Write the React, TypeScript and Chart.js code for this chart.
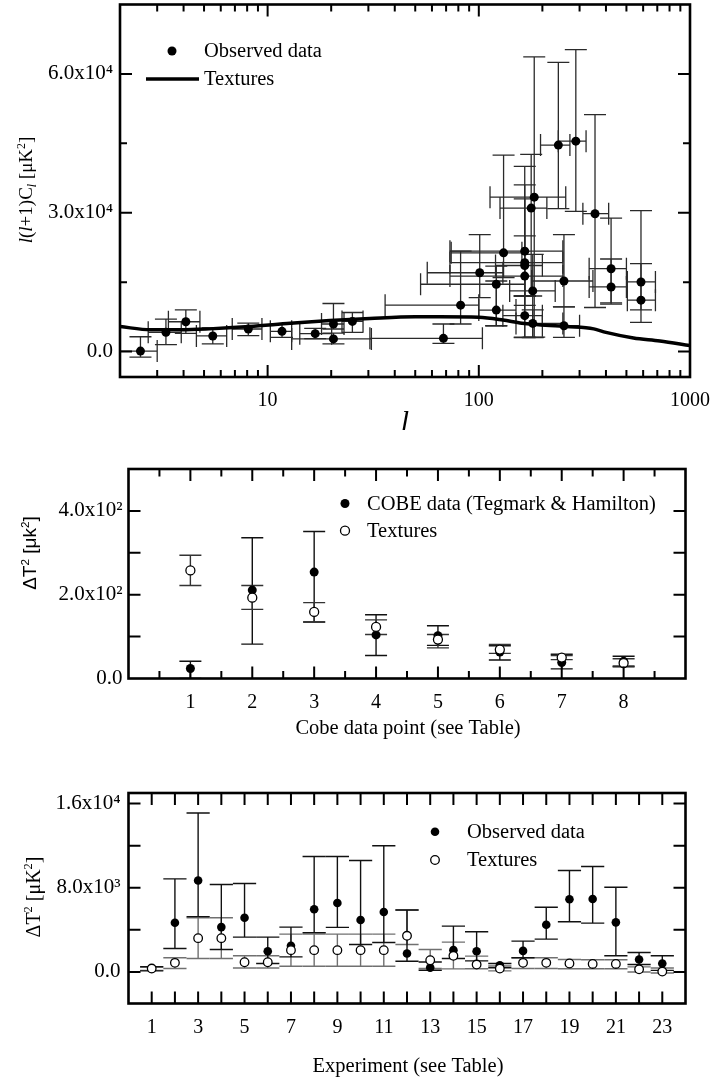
import React, { useEffect, useRef } from 'react';
import { Chart, registerables } from 'chart.js';
Chart.register(...registerables);

const SERIF = "'Liberation Serif', 'Times New Roman', serif";
const SANS = "'Liberation Sans', Arial, sans-serif";

// ---------------- Panel 1: l(l+1)C_l vs l ----------------
const p1L = [2.5, 3.3, 4.1, 5.5, 8.1, 11.7, 16.8, 20.5, 20.5, 25.2, 68, 82, 101, 121, 121, 131, 165, 165, 165, 165, 165, 177, 183, 180, 180, 238, 288, 253, 253, 355, 423, 423, 586, 586];
const p1Y = [100, 4150, 6440, 3370, 4870, 4360, 3870, 5950, 2730, 6510, 2860, 10030, 17030, 14540, 8960, 21330, 21700, 19200, 18600, 16300, 7750, 31000, 33360, 13100, 6080, 44610, 45470, 15250, 5585, 29790, 17900, 13960, 15040, 11100];
const p1YLo = [-1200, 1500, 3930, 1650, 3440, 3070, 2800, 4870, 1650, 4150, 1780, 5950, 11660, 5580, 5580, 15960, 3100, 12000, 12000, 10000, 3000, 12000, 3100, 3000, 3070, 30870, 30290, 9670, 3070, 9520, 10240, 10500, 9000, 6300];
const p1YHi = [3200, 7000, 9020, 5100, 6160, 5950, 5000, 10380, 4000, 8440, 5950, 21700, 25280, 18470, 15250, 42460, 40000, 36000, 33000, 25000, 12000, 42600, 63700, 21000, 9000, 62500, 65230, 25280, 9670, 51190, 28850, 20000, 30440, 19000];
const p1LMin = [1.9, 2.72, 3.39, 4.6, 6.8, 10.3, 14.2, 18, 13, 22.5, 30.5, 36, 57, 53, 100, 74, 73, 73, 120, 73, 130, 126, 113, 140, 150, 196, 238, 178, 200, 311, 333, 333, 505, 505];
const p1LMax = [3.0, 3.9, 4.78, 6.4, 9.4, 13.0, 20.1, 23, 31, 28.3, 104, 100, 130, 165, 150, 160, 250, 250, 200, 250, 200, 210, 258, 230, 250, 270, 322, 347, 300, 412, 500, 500, 686, 686];
const texCurveL = [2, 2.8, 3.9, 5.3, 8.2, 12.8, 19.7, 30.5, 50, 65, 100, 130, 160, 260, 350, 400, 540, 720, 1000];
const texCurveY = [5400, 4700, 4700, 4900, 5400, 6100, 6700, 7150, 7500, 7500, 7400, 6800, 6100, 5400, 4900, 4150, 2940, 2300, 1290];
const p1XTickVals = [10, 100, 1000];
const p1XTickLabels = ['10', '100', '1000'];
const p1YTickVals = [0, 30000, 60000];
const p1YTickLabels = ['0.0', '3.0x10⁴', '6.0x10⁴'];
const p1XMajor = [10, 100];
const p1XMinor = [3, 4, 5, 6, 7, 8, 9, 20, 30, 40, 50, 60, 70, 80, 90, 200, 300, 400, 500, 600, 700, 800, 900];
const p1YMajor = [0, 30000, 60000];
const p1YMinor = [15000, 45000];

// ---------------- Panel 2: COBE ----------------
const p2X = [1, 2, 3, 4, 5, 6, 7, 8];
const p2Cobe = [24, 211, 254, 104, 102, 63, 38, 41];
const p2CobeLo = [0, 82, 135, 55, 79, 44, 23, 28];
const p2CobeHi = [41, 336, 351, 152, 126, 78, 58, 53];
const p2Tex = [258, 193, 159, 123, 93, 69, 50, 37];
const p2TexLo = [222, 165, 135, 105, 73, 60, 45, 30];
const p2TexHi = [294, 222, 181, 140, 105, 81, 55, 47];
const p2XTickVals = [1, 2, 3, 4, 5, 6, 7, 8];
const p2XTickLabels = ['1', '2', '3', '4', '5', '6', '7', '8'];
const p2YTickVals = [0, 200, 400];
const p2YTickLabels = ['0.0', '2.0x10²', '4.0x10²'];
const p2XMajor = [1, 2, 3, 4, 5, 6, 7, 8];
const p2XMinor = [0.5, 1.5, 2.5, 3.5, 4.5, 5.5, 6.5, 7.5, 8.5];
const p2YMajor = [100, 200, 300, 400];

// ---------------- Panel 3: experiments ----------------
const p3X = [1, 2, 3, 4, 5, 6, 7, 8, 9, 10, 11, 12, 13, 14, 15, 16, 17, 18, 19, 20, 21, 22, 23];
const p3Obs = [300, 4675, 8680, 4260, 5150, 1970, 2480, 5950, 6550, 4930, 5690, 1750, 410, 2070, 1970, 640, 2000, 4480, 6900, 6930, 4710, 1180, 800];
const p3ObsLo = [100, 2230, 5250, 2130, 3310, 800, 1430, 3720, 4230, 2610, 2800, 1020, 160, 1270, 1050, 400, 1340, 3120, 4770, 4640, 1530, 700, 150];
const p3ObsHi = [500, 8840, 15100, 8300, 8400, 3310, 4260, 10970, 10970, 10590, 11990, 5880, 950, 4350, 3820, 800, 2930, 6140, 9640, 10020, 8050, 1840, 1530];
const p3Tex = [320, 860, 3210, 3210, 920, 920, 2070, 2070, 2070, 2070, 2070, 3430, 1110, 1530, 700, 320, 860, 860, 800, 760, 760, 250, 30];
const p3TexLo = [150, 320, 1270, 1270, 380, 380, 540, 540, 540, 540, 540, 2610, 320, 290, 300, 100, 320, 320, 300, 300, 300, 0, -100];
const p3TexHi = [450, 1340, 5150, 5150, 1530, 1530, 3590, 3590, 3590, 3590, 3590, 5880, 2130, 2830, 1500, 570, 1340, 1340, 1180, 1150, 1150, 480, 380];
const p3XTickVals = [1, 3, 5, 7, 9, 11, 13, 15, 17, 19, 21, 23];
const p3XTickLabels = ['1', '3', '5', '7', '9', '11', '13', '15', '17', '19', '21', '23'];
const p3YTickVals = [0, 8000, 16000];
const p3YTickLabels = ['0.0', '8.0x10³', '1.6x10⁴'];
const p3XMajor = [1, 2, 3, 4, 5, 6, 7, 8, 9, 10, 11, 12, 13, 14, 15, 16, 17, 18, 19, 20, 21, 22, 23];
const p3YMajor = [0, 4000, 8000, 12000, 16000];

type Seg = { t: string; i?: boolean; sup?: boolean; sub?: boolean };

function drawRich(ctx: CanvasRenderingContext2D, segs: Seg[], cx: number, cy: number, size: number, family: string, rotate: boolean) {
  ctx.save();
  ctx.translate(cx, cy);
  if (rotate) ctx.rotate(-Math.PI / 2);
  ctx.fillStyle = '#000';
  ctx.textBaseline = 'alphabetic';
  ctx.textAlign = 'left';
  const parts = segs.map((s) => {
    const sz = s.sup || s.sub ? size * 0.62 : size;
    const font = `${s.i ? 'italic ' : ''}${sz}px ${family}`;
    ctx.font = font;
    return { s, font, w: ctx.measureText(s.t).width, dy: s.sup ? -size * 0.4 : s.sub ? size * 0.18 : 0 };
  });
  const total = parts.reduce((a, p) => a + p.w, 0);
  let x = -total / 2;
  const base = size * 0.33;
  parts.forEach((p) => {
    ctx.font = p.font;
    ctx.fillText(p.s.t, x, base + p.dy);
    x += p.w;
  });
  ctx.restore();
}

const decorPlugin = {
  id: 'decor',
  beforeDatasetsDraw(chart: any, _args: any, opts: any) {
    const { ctx, chartArea: a } = chart;
    const xs = chart.scales.x;
    const ys = chart.scales.y;
    ctx.save();
    ctx.beginPath();
    ctx.rect(a.left, a.top, a.right - a.left, a.bottom - a.top);
    ctx.clip();
    (opts.errorBars || []).forEach((eb: any) => {
      const ds = chart.data.datasets[eb.datasetIndex];
      ds.data.forEach((d: any, i: number) => {
        const px = xs.getPixelForValue(d.x);
        const py = ys.getPixelForValue(d.y);
        ctx.strokeStyle = eb.color;
        ctx.lineWidth = eb.lineWidth;
        ctx.beginPath();
        if (eb.ylo) {
          const lo = ys.getPixelForValue(eb.ylo[i]);
          const hi = ys.getPixelForValue(eb.yhi[i]);
          let cl = px - (eb.capPx || 0);
          let cr = px + (eb.capPx || 0);
          if (eb.capUnits) {
            cl = xs.getPixelForValue(d.x - eb.capUnits);
            cr = xs.getPixelForValue(d.x + eb.capUnits);
          }
          ctx.moveTo(px, lo); ctx.lineTo(px, hi);
          ctx.moveTo(cl, lo); ctx.lineTo(cr, lo);
          ctx.moveTo(cl, hi); ctx.lineTo(cr, hi);
        }
        if (eb.xlo) {
          const l = xs.getPixelForValue(eb.xlo[i]);
          const r = xs.getPixelForValue(eb.xhi[i]);
          const c = eb.xCapPx;
          ctx.moveTo(l, py); ctx.lineTo(r, py);
          ctx.moveTo(l, py - c); ctx.lineTo(l, py + c);
          ctx.moveTo(r, py - c); ctx.lineTo(r, py + c);
        }
        ctx.stroke();
      });
    });
    ctx.restore();
  },
  afterDraw(chart: any, _args: any, opts: any) {
    const { ctx, chartArea: a } = chart;
    const xs = chart.scales.x;
    const ys = chart.scales.y;
    ctx.save();
    ctx.strokeStyle = '#000';
    ctx.lineWidth = opts.tickWidth || 2;
    ctx.beginPath();
    (opts.xTicks || []).forEach((t: number[]) => {
      const px = xs.getPixelForValue(t[0]);
      ctx.moveTo(px, a.bottom); ctx.lineTo(px, a.bottom - t[1]);
      ctx.moveTo(px, a.top); ctx.lineTo(px, a.top + t[1]);
    });
    (opts.yTicks || []).forEach((t: number[]) => {
      const py = ys.getPixelForValue(t[0]);
      ctx.moveTo(a.left, py); ctx.lineTo(a.left + t[1], py);
      ctx.moveTo(a.right, py); ctx.lineTo(a.right - t[1], py);
    });
    ctx.stroke();
    ctx.lineWidth = opts.frameWidth || 2.5;
    ctx.strokeRect(a.left, a.top, a.right - a.left, a.bottom - a.top);
    // legend
    (opts.legend || []).forEach((it: any) => {
      ctx.beginPath();
      if (it.kind === 'dot') {
        ctx.fillStyle = '#000';
        ctx.arc(it.x, it.y, it.r, 0, Math.PI * 2);
        ctx.fill();
      } else if (it.kind === 'open') {
        ctx.fillStyle = '#fff';
        ctx.strokeStyle = '#000';
        ctx.lineWidth = 1.3;
        ctx.arc(it.x, it.y, it.r, 0, Math.PI * 2);
        ctx.fill();
        ctx.stroke();
      } else if (it.kind === 'line') {
        ctx.strokeStyle = '#000';
        ctx.lineWidth = it.w;
        ctx.moveTo(it.x, it.y);
        ctx.lineTo(it.x2, it.y);
        ctx.stroke();
      }
      ctx.fillStyle = '#000';
      ctx.font = `${it.size}px ${SERIF}`;
      ctx.textAlign = 'left';
      ctx.textBaseline = 'middle';
      ctx.fillText(it.label, it.tx, it.ty);
    });
    (opts.titles || []).forEach((tt: any) => {
      drawRich(ctx, tt.segs, tt.x, tt.y, tt.size, tt.family, tt.rotate);
    });
    ctx.restore();
  },
};

function axisX(opts: any) {
  return {
    type: opts.type || 'linear',
    min: opts.min,
    max: opts.max,
    grid: { display: false, drawTicks: false },
    border: { display: false },
    ticks: {
      autoSkip: false,
      maxRotation: 0,
      padding: opts.padding,
      color: '#000',
      font: { family: SERIF, size: 20 },
      callback: (_v: any, i: number) => opts.labels[i],
    },
    afterBuildTicks: (s: any) => {
      s.ticks = opts.vals.map((v: number) => ({ value: v }));
    },
    afterFit: (s: any) => {
      s.height = opts.height;
      s.paddingLeft = 0;
      s.paddingRight = 0;
    },
  };
}

function axisY(opts: any) {
  return {
    type: 'linear',
    min: opts.min,
    max: opts.max,
    grid: { display: false, drawTicks: false },
    border: { display: false },
    ticks: {
      autoSkip: false,
      padding: opts.padding,
      color: '#000',
      font: { family: SERIF, size: 21 },
      callback: (_v: any, i: number) => opts.labels[i],
    },
    afterBuildTicks: (s: any) => {
      s.ticks = opts.vals.map((v: number) => ({ value: v }));
    },
    afterFit: (s: any) => {
      s.width = opts.width;
      s.paddingTop = 0;
      s.paddingBottom = 0;
    },
  };
}

const baseOpts = {
  animation: false,
  responsive: false,
  devicePixelRatio: 1,
  events: [],
};

function cfgPanel1(): any {
  return {
    type: 'scatter',
    data: {
      datasets: [
        {
          label: 'Observed data',
          data: p1L.map((l, i) => ({ x: l, y: p1Y[i] })),
          pointRadius: 4.5,
          pointBackgroundColor: '#000',
          pointBorderColor: '#000',
          pointBorderWidth: 0,
          showLine: false,
        },
        {
          label: 'Textures',
          data: texCurveL.map((l, i) => ({ x: l, y: texCurveY[i] })),
          showLine: true,
          borderColor: '#000',
          borderWidth: 3.5,
          pointRadius: 0,
          cubicInterpolationMode: 'monotone',
          fill: false,
        },
      ],
    },
    options: {
      ...baseOpts,
      layout: { padding: { left: 0, right: 24, top: 2, bottom: 0 } },
      plugins: {
        legend: { display: false },
        tooltip: { enabled: false },
        decor: {
          errorBars: [
            { datasetIndex: 0, ylo: p1YLo, yhi: p1YHi, xlo: p1LMin, xhi: p1LMax, capPx: 11, xCapPx: 11, color: '#2a2a2a', lineWidth: 1.3 },
          ],
          xTicks: [...p1XMajor.map((v) => [v, 12]), ...p1XMinor.map((v) => [v, 7])],
          yTicks: [...p1YMajor.map((v) => [v, 12]), ...p1YMinor.map((v) => [v, 7])],
          frameWidth: 2.6,
          tickWidth: 2,
          legend: [
            { kind: 'dot', x: 172, y: 51, r: 4.5, label: 'Observed data', tx: 204, ty: 52, size: 20.5 },
            { kind: 'line', x: 146, x2: 199, y: 79, w: 3.5, label: 'Textures', tx: 204, ty: 80, size: 20.5 },
          ],
          titles: [
            {
              segs: [{ t: 'l', i: true }, { t: '(' }, { t: 'l', i: true }, { t: '+1)C' }, { t: 'l', i: true, sub: true }, { t: ' [μK' }, { t: '2', sup: true }, { t: ']' }],
              x: 26, y: 190, size: 19, family: SERIF, rotate: true,
            },
            { segs: [{ t: 'l', i: true }], x: 405, y: 421, size: 30, family: SERIF, rotate: false },
          ],
        },
      },
      scales: {
        x: axisX({ type: 'logarithmic', min: 2, max: 1000, vals: p1XTickVals, labels: p1XTickLabels, padding: 12, height: 53 }),
        y: axisY({ min: -5500, max: 75000, vals: p1YTickVals, labels: p1YTickLabels, padding: 7, width: 120 }),
      },
    },
    plugins: [decorPlugin],
  };
}

function cfgPanel2(): any {
  return {
    type: 'scatter',
    data: {
      datasets: [
        {
          label: 'COBE data (Tegmark & Hamilton)',
          data: p2X.map((x, i) => ({ x, y: p2Cobe[i] })),
          pointRadius: 4.5,
          pointBackgroundColor: '#000',
          pointBorderColor: '#000',
          pointBorderWidth: 0,
          order: 1,
        },
        {
          label: 'Textures',
          data: p2X.map((x, i) => ({ x, y: p2Tex[i] })),
          pointRadius: 4.5,
          pointBackgroundColor: '#fff',
          pointBorderColor: '#000',
          pointBorderWidth: 1.3,
          order: 0,
        },
      ],
    },
    options: {
      ...baseOpts,
      layout: { padding: { left: 0, right: 28.5, top: 29, bottom: 0 } },
      plugins: {
        legend: { display: false },
        tooltip: { enabled: false },
        decor: {
          errorBars: [
            { datasetIndex: 0, ylo: p2CobeLo, yhi: p2CobeHi, capPx: 11, color: '#111', lineWidth: 1.4 },
            { datasetIndex: 1, ylo: p2TexLo, yhi: p2TexHi, capPx: 11, color: '#333', lineWidth: 1.4 },
          ],
          xTicks: [...p2XMajor.map((v) => [v, 12]), ...p2XMinor.map((v) => [v, 7.5])],
          yTicks: p2YMajor.map((v) => [v, 12]),
          frameWidth: 2.6,
          tickWidth: 2,
          legend: [
            { kind: 'dot', x: 345, y: 63.5, r: 4.5, label: 'COBE data (Tegmark & Hamilton)', tx: 367, ty: 64.5, size: 20.5 },
            { kind: 'open', x: 345, y: 90.7, r: 4.5, label: 'Textures', tx: 367, ty: 91.5, size: 20.5 },
          ],
          titles: [
            { segs: [{ t: 'ΔT' }, { t: '2', sup: true }, { t: ' [μk' }, { t: '2', sup: true }, { t: ']' }], x: 30, y: 113, size: 19, family: SANS, rotate: true },
            { segs: [{ t: 'Cobe data point (see Table)' }], x: 408, y: 287, size: 20.5, family: SERIF, rotate: false },
          ],
        },
      },
      scales: {
        x: axisX({ min: 0, max: 9, vals: p2XTickVals, labels: p2XTickLabels, padding: 12, height: 61.5 }),
        y: axisY({ min: 0, max: 500, vals: p2YTickVals, labels: p2YTickLabels, padding: 6, width: 128.5 }),
      },
    },
    plugins: [decorPlugin],
  };
}

function cfgPanel3(): any {
  return {
    type: 'scatter',
    data: {
      datasets: [
        {
          label: 'Observed data',
          data: p3X.map((x, i) => ({ x, y: p3Obs[i] })),
          pointRadius: 4.3,
          pointBackgroundColor: '#000',
          pointBorderColor: '#000',
          pointBorderWidth: 0,
          order: 1,
        },
        {
          label: 'Textures',
          data: p3X.map((x, i) => ({ x, y: p3Tex[i] })),
          pointRadius: 4.3,
          pointBackgroundColor: '#fff',
          pointBorderColor: '#000',
          pointBorderWidth: 1.3,
          order: 0,
        },
      ],
    },
    options: {
      ...baseOpts,
      layout: { padding: { left: 0, right: 28.5, top: 23, bottom: 0 } },
      plugins: {
        legend: { display: false },
        tooltip: { enabled: false },
        decor: {
          errorBars: [
            { datasetIndex: 1, ylo: p3TexLo, yhi: p3TexHi, capUnits: 0.5, color: '#707070', lineWidth: 1.4 },
            { datasetIndex: 0, ylo: p3ObsLo, yhi: p3ObsHi, capUnits: 0.5, color: '#111', lineWidth: 1.4 },
          ],
          xTicks: p3XMajor.map((v) => [v, 12]),
          yTicks: p3YMajor.map((v) => [v, 12]),
          frameWidth: 2.6,
          tickWidth: 2,
          legend: [
            { kind: 'dot', x: 435, y: 61.7, r: 4.3, label: 'Observed data', tx: 467, ty: 62.5, size: 20.5 },
            { kind: 'open', x: 435, y: 90, r: 4.3, label: 'Textures', tx: 467, ty: 90.5, size: 20.5 },
          ],
          titles: [
            { segs: [{ t: 'ΔT' }, { t: '2', sup: true }, { t: ' [μK' }, { t: '2', sup: true }, { t: ']' }], x: 33, y: 127, size: 20, family: SERIF, rotate: true },
            { segs: [{ t: 'Experiment (see Table)' }], x: 408, y: 295, size: 20.5, family: SERIF, rotate: false },
          ],
        },
      },
      scales: {
        x: axisX({ min: 0, max: 24, vals: p3XTickVals, labels: p3XTickLabels, padding: 12, height: 75.5 }),
        y: axisY({ min: -3000, max: 17000, vals: p3YTickVals, labels: p3YTickLabels, padding: 8, width: 128.5 }),
      },
    },
    plugins: [decorPlugin],
  };
}

function Panel({ make, top, height }: { make: () => any; top: number; height: number }) {
  const ref = useRef<HTMLCanvasElement | null>(null);
  useEffect(() => {
    if (!ref.current) return;
    const chart = new Chart(ref.current, make());
    return () => chart.destroy();
  }, [make]);
  return (
    <canvas
      ref={ref}
      width={714}
      height={height}
      style={{ position: 'absolute', left: 0, top, width: 714, height, display: 'block' }}
    />
  );
}

export default function App() {
  return (
    <div style={{ position: 'absolute', left: 0, top: 0, width: 714, height: 1079, background: '#fff', overflow: 'hidden' }}>
      <Panel make={cfgPanel1} top={0} height={430} />
      <Panel make={cfgPanel2} top={440} height={300} />
      <Panel make={cfgPanel3} top={770} height={309} />
    </div>
  );
}
